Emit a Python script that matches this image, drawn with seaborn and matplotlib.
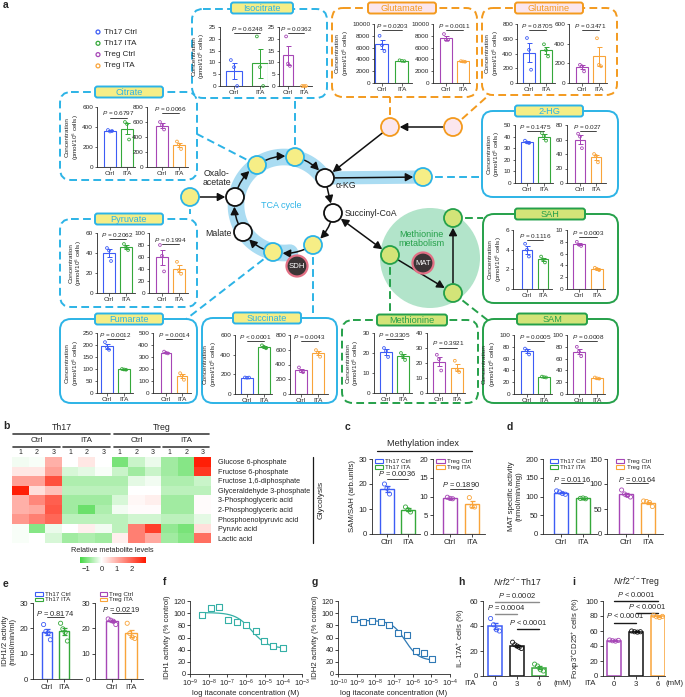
import numpy as np
import pandas as pd
import matplotlib
matplotlib.use("Agg")
import matplotlib.pyplot as plt
import seaborn as sns
from matplotlib.patches import FancyBboxPatch, Circle, FancyArrowPatch, Rectangle
from matplotlib.colors import LinearSegmentedColormap
from matplotlib.ticker import NullLocator

sns.set_style("ticks")
plt.rcParams["font.family"] = ["Liberation Sans", "DejaVu Sans"]
plt.rcParams["mathtext.fontset"] = "custom"
plt.rcParams["mathtext.rm"] = "Liberation Sans"
plt.rcParams["mathtext.it"] = "Liberation Sans:italic"
plt.rcParams["mathtext.bf"] = "Liberation Sans:bold"
plt.rcParams["axes.linewidth"] = 0.6

# ---------------- data ----------------
# panel a: (Ctrl, ITA) replicate values, pmol/10^6 cells
citrate_th17 = ([370, 355, 360], [450, 430, 275])
citrate_treg = ([600, 560, 500], [340, 300, 240])
citrate_p = ("0.6797", "0.0066")
isocitrate_th17 = ([11, 8, 0], [21, 8, 0])
isocitrate_treg = ([21, 9.5, 8.5], [0, 0, 0])
isocitrate_p = ("0.6248", "0.0362")
glutamate_th17 = ([8000, 6400, 5400], [3850, 3750, 3700])
glutamate_treg = ([8300, 7300, 7300], [3700, 3650, 3600])
glutamate_p = ("0.0203", "0.0011")
glutamine_th17 = ([610, 450, 180], [525, 445, 360])
glutamine_treg = ([185, 170, 118], [455, 185, 170])
glutamine_p = ("0.8705", "0.3471")
hg_th17 = ([36.5, 35, 34.5], [43, 40.5, 36.5])
hg_treg = ([68, 64, 48], [40, 37.5, 28.5])
hg_p = ("0.1475", "0.027")
pyruvate_th17 = ([45, 42.5, 32], [49, 45.5, 43])
pyruvate_treg = ([80, 62, 36], [52, 38, 32])
pyruvate_p = ("0.2062", "0.1994")
fumarate_th17 = ([212, 190, 180], [100, 98, 97])
fumarate_treg = ([345, 335, 330], [165, 145, 110])
fumarate_p = ("0.0012", "0.0014")
succinate_th17 = ([168, 165, 167], [495, 480, 465])
succinate_treg = ([360, 310, 295], [595, 560, 505])
succinate_p = ("< 0.0001", "0.0043")
methionine_th17 = ([22.5, 21, 18], [20, 18.3, 16.5])
methionine_treg = ([25.5, 22.5, 15], [21.5, 15.5, 14])
methionine_p = ("0.3305", "0.3921")
sam_th17 = ([77, 74, 67], [29.5, 28.5, 28])
sam_treg = ([80, 72, 64], [28, 26.5, 26])
sam_p = ("0.0005", "0.0008")
sah_th17 = ([4.6, 4.0, 3.3], [3.3, 3.0, 2.7])
sah_treg = ([8.0, 7.5, 7.3], [3.6, 3.4, 3.2])
sah_p = ("0.1116", "0.0003")

# panel b: relative metabolite levels (Th17 Ctrl 1-3, Th17 ITA 1-3, Treg Ctrl 1-3, Treg ITA 1-3)
metabolites = ["Glucose 6-phosphate", "Fructose 6-phosphate", "Fructose 1,6-diphosphate",
               "Glyceraldehyde 3-phosphate", "3-Phosphoglyceric acid", "2-Phosphoglyceric acid",
               "Phosphoenolpyruvic acid", "Pyruvic acid", "Lactic acid"]
g6p = [-0.1, -0.05, 1.0, 0.0, 0.3, 0.0, -1.0, -0.4, -0.15, -0.7, -0.9, 2.8]
f6p = [0.3, 0.3, 1.2, -0.3, -0.2, -0.05, -0.4, -0.7, -0.4, -0.7, -0.9, 2.5]
f16dp = [1.2, 1.2, 2.2, -0.6, -0.6, -0.6, -0.6, -0.2, -0.1, -0.6, -0.6, -0.4]
gap = [2.8, 0.4, 0.8, -0.5, -0.5, -0.5, -0.5, 0.0, 0.0, -0.5, -0.5, -0.5]
pga3 = [1.0, 1.5, 2.0, -0.7, -0.7, -0.7, -0.3, 0.1, 0.2, -0.7, -0.7, 0.05]
pga2 = [1.0, 1.1, 2.1, -0.7, -1.1, -0.6, -0.1, 0.05, 0.05, -0.7, -0.7, 0.05]
pep = [1.3, 1.6, 1.9, -0.5, -0.5, -0.5, -0.5, -0.35, -0.35, -0.5, -0.5, -0.2]
pyr = [-0.05, -0.9, -0.15, 0.0, 0.2, -0.1, -0.5, 1.6, 2.4, -0.8, -1.0, 0.4]
lac = [-0.05, 0.0, -0.3, -0.7, -0.6, -0.7, 0.2, 1.6, 1.1, -0.7, -0.9, 1.8]

# panel c, d, e
sam_sah_th17 = ([20, 18.3, 16], [10.8, 9.7, 8.8])
sam_sah_treg = ([9.8, 9.5, 9.4], [9.7, 7.3, 7.2])
mat_th17 = ([115, 112, 108, 106], [95, 96, 94])
mat_treg = ([88, 80, 77, 74], [66, 65, 63, 55])
idh_th17 = ([21.5, 18.8, 18.2, 15.5], [22, 19.8, 18.4, 15])
idh_treg = ([23.7, 23.2, 22.8, 21.5], [22, 18, 16.5, 16])

# panel f, g: itaconate concentration (M) vs activity (% control)
idh1_conc = [4.5e-9, 1.3e-8, 3.7e-8, 1.1e-7, 3.5e-7, 1.0e-6, 3.3e-6, 9.5e-6, 2.8e-5, 9.1e-5]
idh1_act = [97.5, 108, 110, 89.5, 85, 80, 70.5, 55, 46, 42.5]
idh1_fit = dict(top=101, bottom=42, ic50=2e-6, hill=1.0)
idh2_conc = [7.6e-10, 2.2e-9, 6.6e-9, 1.95e-8, 5.5e-8, 1.7e-7, 4.8e-7, 1.45e-6, 4.1e-6, 1.15e-5]
idh2_act = [91, 85, 87.3, 86.2, 81, 68, 63.7, 38.6, 34.8, 24]
idh2_fit = dict(top=88, bottom=22, ic50=4e-7, hill=1.2)

# panel h, i (ITA 0, 3, 6 mM)
ita_doses = ["0", "3", "6"]
il17a = ([46, 41, 37, 36], [27, 25, 24, 23, 22], [9.5, 8, 5, 4])
foxp3 = ([48, 47, 46.5, 47.5], [60, 59, 58.5, 59], [81, 79, 78, 79.5])

# ---------------- style ----------------
TH17 = ["#3d5cf5", "#35a83a"]
TREG = ["#a646b6", "#f9a43a"]
BLUE = "#2cb3e6"
ORANGE = "#f39a1e"
GREEN = "#25a04a"
YEL = "#f6ee86"
PINK = "#fbe6ee"
LGREEN = "#d3e478"
RING = "#aadcf2"
METC = "#b2e4ca"

W, H = 685, 697
fig = plt.figure(figsize=(W / 100, H / 100), dpi=100)


def rect(x0, y0, x1, y1):
    return [x0 / W, 1 - y1 / H, (x1 - x0) / W, (y1 - y0) / H]


bg = fig.add_axes([0, 0, 1, 1])
bg.set_xlim(0, W)
bg.set_ylim(H, 0)
bg.axis("off")


def offsets(n):
    return np.linspace(-0.12, 0.12, n) if n < 4 else np.linspace(-0.2, 0.2, n)


def bar_group(ax, vals, cols, labels, width=0.65, lw=0.8, ms=5):
    df = pd.DataFrame({"grp": np.repeat(labels, [len(v) for v in vals]),
                       "val": np.concatenate([np.asarray(v, float) for v in vals])})
    sns.barplot(data=df, x="grp", y="val", hue="grp", palette=cols, fill=False,
                errorbar=None, width=width, linewidth=lw, legend=False,
                order=labels, hue_order=labels, ax=ax)
    for i, (v, c) in enumerate(zip(vals, cols)):
        v = np.asarray(v, float)
        se = v.std(ddof=1) / np.sqrt(len(v))
        ax.errorbar(i, v.mean(), yerr=se, color=c, capsize=1.8, lw=lw * 0.9,
                    capthick=lw * 0.9, zorder=3)
        ax.scatter(i + offsets(len(v)), v, s=ms, facecolors="none", edgecolors=c,
                   linewidths=0.6, zorder=4, clip_on=False)
    ax.set_xlabel("")
    ax.set_ylabel("")
    ax.patch.set_alpha(0)
    sns.despine(ax=ax)


def pval(ax, txt, x0, x1, ty, ly, fs, lc="0.15", lw=0.6):
    tr = ax.get_xaxis_transform()
    ax.text((x0 + x1) / 2, ty, r"$\it{P}$ " + txt, ha="center", va="center",
            fontsize=fs, transform=tr, clip_on=False)
    ax.plot([x0, x1], [ly, ly], color=lc, lw=lw, transform=tr, clip_on=False)


def mini(xs, top, bot, vals, cols, yticks, ptxt, tf=0.97, ylab=False):
    xa, xc, xi, xe = xs
    ax = fig.add_axes(rect(xa, top, xe, bot))
    bar_group(ax, vals, cols, ["Ctrl", "ITA"], lw=0.8, ms=4)
    u = xi - xc
    ax.set_xlim(-(xc - xa) / u, 1 + (xe - xi) / u)
    ax.set_ylim(0, yticks[-1])
    ax.set_yticks(yticks)
    ax.tick_params(length=1.8, width=0.5, labelsize=4.6, pad=1)
    t = ptxt if ptxt.startswith("<") else "= " + ptxt
    pval(ax, t, 0, 1, tf, tf - 0.075, 4.6)
    if ylab:
        ax.set_ylabel("Concentration\n(pmol/10$^{6}$ cells)", fontsize=4.6,
                      labelpad=1, linespacing=1.1)
    return ax


# ---------------- panel a: diagram ----------------
def box(x0, y0, x1, y1, color, dashed):
    bg.add_patch(FancyBboxPatch((x0, y0), x1 - x0, y1 - y0,
                                boxstyle="round,pad=0,rounding_size=11", fc="white",
                                ec=color, lw=1.4, ls=(0, (4, 2.2)) if dashed else "-",
                                zorder=3))


def tag(xc, yc, text, fc, ec, tc, w=68, h=11):
    bg.add_patch(FancyBboxPatch((xc - w / 2, yc - h / 2), w, h,
                                boxstyle="round,pad=0,rounding_size=2.5", fc=fc,
                                ec=ec, lw=1.4, zorder=6))
    bg.text(xc, yc + 0.3, text, ha="center", va="center", fontsize=6.6, color=tc, zorder=7)


def node(p, fc, ec, r=9, lw=1.3):
    bg.add_patch(Circle(p, r, fc=fc, ec=ec, lw=lw, zorder=6))


def arrow(p0, p1, rad=0.0, both=False, sa=7, sb=7):
    st = "<|-|>" if both else "-|>"
    bg.add_patch(FancyArrowPatch(p0, p1, arrowstyle=st + ",head_length=0.45,head_width=0.24",
                                 connectionstyle=f"arc3,rad={rad}", mutation_scale=10,
                                 shrinkA=sa, shrinkB=sb, color="#111111", lw=1.1, zorder=5))


def dash(p0, p1, color):
    bg.plot([p0[0], p1[0]], [p0[1], p1[1]], color=color, lw=1.4, ls=(0, (4, 2.2)), zorder=2)


N = {"cit": (257, 165), "iso": (295, 157), "akg": (325, 178), "sca": (333, 213),
     "suc": (313, 245), "fum": (273, 252), "mal": (243, 232), "oaa": (235, 197),
     "pyr": (190, 197), "hg": (423, 177), "glu": (390, 127), "gln": (453, 127),
     "met": (390, 255), "sah": (453, 218), "sam": (453, 293)}

# TCA band and methionine circle
cx, cy, rr = 284, 205, 48
th = np.radians(np.linspace(-33, -277, 120))
bg.plot(cx + rr * np.cos(th), cy + rr * np.sin(th), color=RING, lw=12,
        solid_capstyle="round", zorder=1)
bg.plot([N["akg"][0], N["hg"][0]], [N["akg"][1], N["hg"][1]], color=RING, lw=9.5,
        solid_capstyle="round", zorder=1)
bg.add_patch(Circle((430, 258), 50, fc=METC, ec="none", zorder=1))

# connectors
dash((257, 165), (197, 134), BLUE)
dash((295, 157), (295, 98), BLUE)
dash((190, 197), (190, 214), BLUE)
dash((273, 252), (185, 320), BLUE)
dash((313, 245), (313, 313), BLUE)
dash((423, 177), (483, 177), BLUE)
dash((390, 127), (390, 97), ORANGE)
dash((453, 127), (490, 94), ORANGE)
dash((390, 255), (390, 322), GREEN)
dash((453, 218), (483, 218), GREEN)
dash((453, 293), (490, 322), GREEN)

# boxes
box(60, 92, 197, 180, BLUE, True)
box(192, 9, 327, 98, BLUE, True)
box(332, 8, 477, 97, ORANGE, True)
box(482, 8, 617, 95, ORANGE, True)
box(482, 111, 618, 197, BLUE, False)
box(60, 219, 197, 307, BLUE, True)
box(60, 319, 197, 403, BLUE, False)
box(202, 318, 337, 403, BLUE, False)
box(342, 320, 478, 403, GREEN, True)
box(483, 214, 618, 303, GREEN, False)
box(483, 319, 618, 403, GREEN, False)

tag(129, 92, "Citrate", YEL, BLUE, BLUE)
tag(262, 8, "Isocitrate", YEL, BLUE, BLUE, w=62)
tag(402, 8, "Glutamate", PINK, ORANGE, ORANGE)
tag(549, 8, "Glutamine", PINK, ORANGE, ORANGE)
tag(549, 111, "2-HG", YEL, BLUE, BLUE)
tag(129, 219, "Pyruvate", YEL, BLUE, BLUE)
tag(129, 319, "Fumarate", YEL, BLUE, BLUE)
tag(267, 318, "Succinate", YEL, BLUE, BLUE)
tag(412, 320, "Methionine", LGREEN, GREEN, GREEN, w=70)
tag(550, 214, "SAH", LGREEN, GREEN, GREEN, w=70)
tag(552, 319, "SAM", LGREEN, GREEN, GREEN, w=70)

# arrows
ring = ["oaa", "cit", "iso", "akg", "sca", "suc", "fum", "mal", "oaa"]
for a, b in zip(ring[:-1], ring[1:]):
    arrow(N[a], N[b], rad=-0.2 if (a, b) != ("akg", "sca") else 0.0)
arrow(N["pyr"], N["oaa"])
arrow(N["akg"], N["hg"])
arrow(N["gln"], N["glu"])
arrow(N["glu"], N["akg"])
arrow(N["sca"], N["met"], both=True)
arrow(N["met"], N["sam"])
arrow(N["sam"], N["sah"])

for k in ["cit", "iso", "suc", "fum", "pyr", "hg"]:
    node(N[k], YEL, BLUE)
for k in ["akg", "sca", "mal", "oaa"]:
    node(N[k], "white", "#111111")
for k in ["glu", "gln"]:
    node(N[k], PINK, ORANGE)
for k in ["met", "sah", "sam"]:
    node(N[k], LGREEN, GREEN)
for p, t in [((297, 266), "SDH"), ((423, 263), "MAT")]:
    bg.add_patch(Circle(p, 10.5, fc="#3b3536", ec="#e27085", lw=1.6, zorder=6))
    bg.text(p[0], p[1] + 0.5, t, ha="center", va="center", fontsize=5.6, color="white", zorder=7)

bg.text(217, 178, "Oxalo-\nacetate", ha="center", va="center", fontsize=6.3, linespacing=1.1, zorder=7)
bg.text(232, 234, "Malate", ha="right", va="center", fontsize=6.3, zorder=7)
bg.text(336, 186, "α-KG", ha="left", va="center", fontsize=6.3, zorder=7)
bg.text(345, 214, "Succinyl-CoA", ha="left", va="center", fontsize=6.3, zorder=7)
bg.text(281, 205, "TCA cycle", ha="center", va="center", fontsize=6.5, color=BLUE, zorder=7)
bg.text(421, 239, "Methionine\nmetabolism", ha="center", va="center", fontsize=6.5,
        color=GREEN, linespacing=1.1, zorder=7)

# legend of panel a
for i, (lab, c) in enumerate(zip(["Th17 Ctrl", "Th17 ITA", "Treg Ctrl", "Treg ITA"], TH17 + TREG)):
    y = 32 + i * 11.3
    bg.scatter([98], [y], s=8, facecolors="none", edgecolors=c, linewidths=0.9, zorder=7)
    bg.text(104, y, lab, ha="left", va="center", fontsize=5.8, zorder=7)

# panel a bar charts
mini((97, 110, 127, 135), 107, 167, citrate_th17, TH17, [0, 200, 400, 600], citrate_p[0], tf=0.9, ylab=True)
mini((147, 162, 179, 188), 107, 167, citrate_treg, TREG, [0, 200, 400, 600, 800], citrate_p[1])
mini((220, 234, 260, 268), 27, 86, isocitrate_th17, TH17, [0, 5, 10, 15, 20, 25], isocitrate_p[0], ylab=True)
mini((279, 288, 304, 312), 27, 86, isocitrate_treg, TREG, [0, 5, 10, 15, 20, 25], isocitrate_p[1])
mini((374, 382, 402, 412), 24, 83, glutamate_th17, TH17, [0, 2000, 4000, 6000, 8000, 10000], glutamate_p[0], ylab=True)
mini((433, 446, 463, 470), 24, 83, glutamate_treg, TREG, [0, 2000, 4000, 6000, 8000, 10000], glutamate_p[1])
mini((517, 529, 546, 555), 24, 83, glutamine_th17, TH17, [0, 200, 400, 600, 800], glutamine_p[0], ylab=True)
mini((569, 582, 599, 607), 24, 83, glutamine_treg, TREG, [0, 200, 400, 600], glutamine_p[1])
mini((515, 527, 544, 553), 125, 183, hg_th17, TH17, [0, 10, 20, 30, 40, 50], hg_p[0], ylab=True)
mini((567, 580, 596, 606), 125, 183, hg_treg, TREG, [0, 20, 40, 60, 80], hg_p[1])
mini((97, 109, 126, 135), 233, 293, pyruvate_th17, TH17, [0, 20, 40, 60], pyruvate_p[0], ylab=True)
mini((149, 162, 179, 188), 233, 293, pyruvate_treg, TREG, [0, 20, 40, 60, 80, 100], pyruvate_p[1], tf=0.89)
mini((97, 107, 124, 133), 333, 393, fumarate_th17, TH17, [0, 50, 100, 150, 200, 250], fumarate_p[0], ylab=True)
mini((153, 166, 182, 191), 333, 393, fumarate_treg, TREG, [0, 100, 200, 300, 400, 500], fumarate_p[1])
mini((235, 247, 264, 272), 335, 394, succinate_th17, TH17, [0, 200, 400, 600], succinate_p[0], ylab=True)
mini((290, 301, 318, 328), 335, 394, succinate_treg, TREG, [0, 200, 400, 600, 800], succinate_p[1])
mini((374, 386, 403, 412), 333, 393, methionine_th17, TH17, [0, 10, 20, 30], methionine_p[0], ylab=True)
mini((427, 439, 457, 465), 333, 393, methionine_treg, TREG, [0, 10, 20, 30, 40], methionine_p[1], tf=0.83)
mini((514, 527, 544, 552), 335, 394, sam_th17, TH17, [0, 20, 40, 60, 80, 100], sam_p[0], ylab=True)
mini((567, 579, 597, 605), 335, 394, sam_treg, TREG, [0, 20, 40, 60, 80, 100], sam_p[1])
mini((513, 527, 543, 552), 230, 289, sah_th17, TH17, [0, 2, 4, 6], sah_p[0], tf=0.9, ylab=True)
mini((567, 579, 597, 605), 230, 289, sah_treg, TREG, [0, 2, 4, 6, 8, 10], sah_p[1], tf=0.95)

# ---------------- panel b: heatmap ----------------
heat = pd.DataFrame([g6p, f6p, f16dp, gap, pga3, pga2, pep, pyr, lac], index=metabolites)
vmin, vmax = -1.4, 2.9
cmap = LinearSegmentedColormap.from_list(
    "gwr", [(0, "#45d845"), (-vmin / (vmax - vmin), "#ffffff"), (1, "#ff1800")])
axh = fig.add_axes(rect(12, 457, 211, 543))
sns.heatmap(heat, cmap=cmap, vmin=vmin, vmax=vmax, cbar=False, xticklabels=False,
            yticklabels=metabolites, ax=axh)
axh.yaxis.tick_right()
axh.tick_params(axis="y", length=0, labelsize=5.2, pad=5)
for t in axh.get_yticklabels():
    t.set_rotation(0)

cax = fig.add_axes(rect(80, 557, 146, 563))
cb = fig.colorbar(axh.collections[0], cax=cax, orientation="horizontal")
cb.set_ticks([-1, 0, 1, 2])
cb.outline.set_visible(False)
cax.tick_params(length=0, labelsize=5.5, pad=2)
bg.text(112, 551, "Relative metabolite levels", ha="center", va="center", fontsize=5.3)

for x0, x1, lab in [(13, 110, "Th17"), (114, 209, "Treg")]:
    bg.plot([x0, x1], [434, 434], color="0.25", lw=1.2)
    bg.text((x0 + x1) / 2, 428, lab, ha="center", va="center", fontsize=6.3)
for x0, x1, lab in [(13, 60, "Ctrl"), (63, 110, "ITA"), (114, 160, "Ctrl"), (163, 209, "ITA")]:
    bg.plot([x0, x1], [447, 447], color="0.25", lw=1.2)
    bg.text((x0 + x1) / 2, 441, lab, ha="center", va="center", fontsize=5.8)
for j in range(12):
    bg.text(12 + 199 / 12 * (j + 0.5), 452, str(j % 3 + 1), ha="center", va="center", fontsize=5)
bg.plot([313, 313], [457, 543], color="0.1", lw=0.9)
bg.text(321, 500, "Glycolysis", ha="center", va="center", rotation=90, fontsize=6)


# ---------------- panels c, d, e ----------------
def pair(xs, top, bot, vals, cols, yticks, ptxt, tf, lf, labels, leg_y, leg_x=(0.06, 0.23)):
    xa, xc, xi, xe = xs
    ax = fig.add_axes(rect(xa, top, xe, bot))
    bar_group(ax, vals, cols, ["Ctrl", "ITA"], width=0.62, lw=1.0, ms=9)
    u = xi - xc
    ax.set_xlim(-(xc - xa) / u, 1 + (xe - xi) / u)
    ax.set_ylim(0, yticks[-1])
    ax.set_yticks(yticks)
    ax.tick_params(length=2, width=0.6, labelsize=5.6, pad=1.5)
    pval(ax, "= " + ptxt, 0, 1, tf, lf, 5.4)
    # legend boxes
    for k, (lab, c) in enumerate(zip(labels, cols)):
        yy = leg_y[k]
        ax.add_patch(Rectangle((leg_x[0], yy - 0.025), leg_x[1] - leg_x[0], 0.05,
                               transform=ax.transAxes, fc="none", ec=c, lw=0.8, clip_on=False))
        ax.text(leg_x[1] + 0.04, yy, lab, transform=ax.transAxes, fontsize=4.5, va="center")
    return ax


LEG_CD = (0.973, 0.893)
ax = pair((372, 387, 408, 420), 459, 534, sam_sah_th17, TH17, [0, 10, 20, 30], "0.0036", 0.81, 0.733, ["Th17 Ctrl", "Th17 ITA"], LEG_CD)
ax.set_ylabel("SAM/SAH (arb.units)", fontsize=5.6, labelpad=2)
pair((433, 450, 472, 485), 459, 534, sam_sah_treg, TREG, [0, 5, 10, 15, 20], "0.1890", 0.655, 0.6, ["Treg Ctrl", "Treg ITA"], LEG_CD)
bg.text(423, 443, "Methylation index", ha="center", va="center", fontsize=6.6)
bg.plot([377, 472], [451, 451], color="0.1", lw=0.9)

ax = pair((543, 561, 583, 597), 459, 534, mat_th17, TH17, [0, 50, 100, 150, 200], "0.0116", 0.72, 0.68, ["Th17 Ctrl", "Th17 ITA"], LEG_CD, (0.13, 0.28))
ax.set_ylabel("MAT specific activity\n(nmol/min/mg)", fontsize=5.6, labelpad=2, linespacing=1.1)
pair((607, 626, 648, 663), 459, 534, mat_treg, TREG, [0, 50, 100, 150], "0.0164", 0.733, 0.68, ["Treg Ctrl", "Treg ITA"], LEG_CD, (0.16, 0.31))

LEG_E = (1.118, 1.045)
ax = pair((33, 47, 64, 82), 603, 679, idh_th17, TH17, [0, 10, 20, 30], "0.8174", 0.867, 0.817, ["Th17 Ctrl", "Th17 ITA"], LEG_E, (0.04, 0.2))
ax.set_ylabel("IDH1/2 activity\n(nmol/min/ml)", fontsize=5.6, labelpad=2, linespacing=1.1)
pair((95, 112, 131, 143), 603, 679, idh_treg, TREG, [0, 10, 20, 30], "0.0219", 0.92, 0.867, ["Treg Ctrl", "Treg ITA"], LEG_E, (0.1, 0.26))


# ---------------- panels f, g ----------------
def four_pl(x, top, bottom, ic50, hill):
    return bottom + (top - bottom) / (1 + (x / ic50) ** hill)


def dose(xs, conc, act, fit, color, xlim, ylab):
    ax = fig.add_axes(rect(*xs))
    ax.set_xscale("log")
    sns.scatterplot(x=conc, y=act, marker="s", s=13, facecolor="white", edgecolor=color,
                    linewidth=0.8, ax=ax, zorder=4)
    xx = np.logspace(np.log10(min(conc)), np.log10(max(conc)), 200)
    ax.plot(xx, four_pl(xx, **fit), color=color, lw=0.9, zorder=3)
    ax.set_xlim(*xlim)
    ax.set_ylim(0, 120)
    ax.set_yticks(range(0, 121, 20))
    lo, hi = int(np.log10(xlim[0])), int(np.log10(xlim[1]))
    ax.set_xticks([10.0 ** k for k in range(lo, hi + 1)])
    ax.xaxis.set_minor_locator(NullLocator())
    ax.tick_params(length=2, width=0.6, labelsize=5.3, pad=1)
    ax.set_xlabel("log itaconate concentration (M)", fontsize=5.6, labelpad=0.5)
    ax.set_ylabel(ylab, fontsize=5.6, labelpad=2)
    ax.patch.set_alpha(0)
    sns.despine(ax=ax)


dose((190, 601, 302, 674), idh1_conc, idh1_act, idh1_fit, "#35b0a6", (1e-9, 1e-3), "IDH1 activity (% control)")
dose((338, 601, 450, 674), idh2_conc, idh2_act, idh2_fit, "#2f79b5", (1e-10, 1e-4), "IDH2 activity (% control)")


# ---------------- panels h, i ----------------
def dose_bars(xs, vals, cols, yticks, ylab, pvals, mm_x=1.08):
    xa, x0, x1, xe = xs
    ax = fig.add_axes(rect(xa, 601, xe, 676))
    bar_group(ax, vals, cols, ita_doses, width=0.68, lw=1.1, ms=9)
    u = x1 - x0
    ax.set_xlim(-(x0 - xa) / u, (xe - x0) / u)
    ax.set_ylim(0, yticks[-1])
    ax.set_yticks(yticks)
    ax.tick_params(length=2, width=0.6, labelsize=5.6, pad=1.5)
    ax.set_ylabel(ylab, fontsize=5.6, labelpad=2)
    for a, b, txt, tf, lf, lc in pvals:
        pval(ax, txt, a, b, tf, lf, 5.4, lc=lc, lw=1.0)
    ax.text(-0.12, -0.055, "ITA", transform=ax.transAxes, ha="right", va="top", fontsize=5.6)
    ax.text(mm_x, -0.055, "(mM)", transform=ax.transAxes, ha="left", va="top", fontsize=5.6)
    return ax


dose_bars((483, 495, 517, 548), il17a, [TH17[0], "#111111", TH17[1]], [0, 20, 40, 60],
          "IL-17A$^{+}$ cells (%)",
          [(0, 2, "= 0.0002", 1.067, 0.987, "0.55"), (0, 1, "= 0.0004", 0.907, 0.827, "0.55"),
           (1, 2, "< 0.0001", 0.707, 0.627, "0.1")])
dose_bars((603, 614, 636, 665), foxp3, [TREG[0], "#111111", TREG[1]], [0, 20, 40, 60, 80, 100],
          "Foxp3$^{+}$CD25$^{+}$ cells (%)",
          [(0, 2, "< 0.0001", 1.093, 1.0, "0.1"), (1, 2, "< 0.0001", 0.933, 0.84, "0.1"),
           (0, 1, "< 0.0001", 0.8, 0.707, "0.1")], mm_x=1.0)
bg.text(517, 582, r"$\it{Nrf2}^{-/-}$Th17", ha="center", va="center", fontsize=6.2)
bg.text(636, 582, r"$\it{Nrf2}^{-/-}$Treg", ha="center", va="center", fontsize=6.2)

# panel letters
for x, y, l in [(3, 5, "a"), (3, 426, "b"), (345, 427, "c"), (507, 427, "d"), (3, 584, "e"),
                (163, 582, "f"), (312, 582, "g"), (458, 582, "h"), (572, 582, "i")]:
    bg.text(x, y, l, ha="left", va="center", fontsize=7.5, fontweight="bold")

fig.savefig("out.png", dpi=100)
